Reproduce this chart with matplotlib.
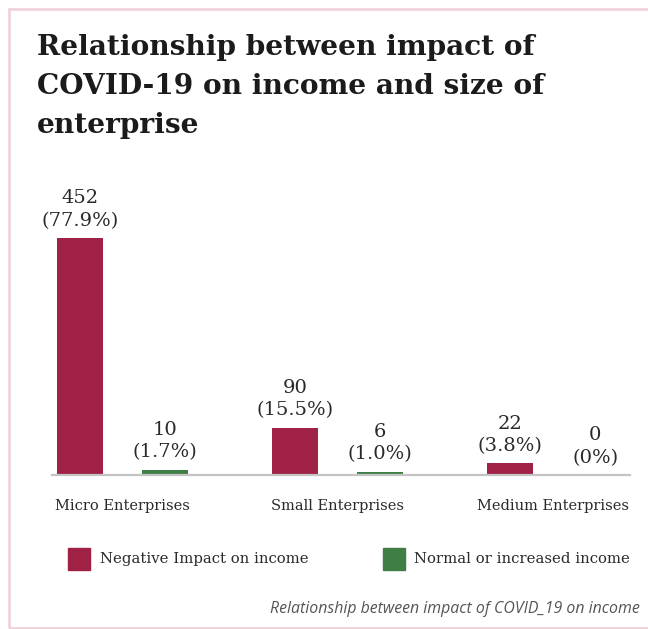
import matplotlib.pyplot as plt
from matplotlib.patches import Rectangle
import numpy as np

categories = ["Micro Enterprises", "Small Enterprises", "Medium Enterprises"]
negative_counts = [452, 90, 22]
negative_pcts = ["77.9%", "15.5%", "3.8%"]
normal_counts = [10, 6, 0]
normal_pcts = ["1.7%", "1.0%", "0%"]
series_names = ["Negative Impact on income", "Normal or increased income"]

RED = "#9f2146"
GREEN = "#3f7f46"
W, H = 648, 629


def px(x, y):
    """Pixel coords (top-left origin) to figure fraction."""
    return x / W, 1 - y / H


fig = plt.figure(figsize=(W / 100, H / 100), dpi=100)
fig.patch.set_facecolor("white")

# pink frame, open on the right side
fig.add_artist(Rectangle(px(9, 628), (W + 20) / W, 619 / H, transform=fig.transFigure,
                         fill=False, edgecolor="#f1d3da", lw=2))

fig.text(*px(37, 34), "Relationship between impact of\nCOVID-19 on income and size of\nenterprise",
         family="DejaVu Serif", weight="bold", fontsize=20.2, color="#1b1b1b",
         va="top", ha="left", linespacing=1.56)

ax = fig.add_axes([52 / W, 1 - 475 / H, (630 - 52) / W, 237 / H])
x = np.arange(len(categories))
bw = 0.214
off = 0.199
ax.bar(x - off, negative_counts, bw, color=RED)
ax.bar(x + off, normal_counts, bw, color=GREEN)
ax.set_xlim(-0.328, 2.36)
ax.set_ylim(0, max(negative_counts))

for xs, counts, pcts in [(x - off, negative_counts, negative_pcts), (x + off, normal_counts, normal_pcts)]:
    for xi, c, p in zip(xs, counts, pcts):
        ax.annotate(f"{c}\n({p})", (xi, c), xytext=(0, 6), textcoords="offset points",
                    ha="center", va="bottom", family="DejaVu Serif", fontsize=14,
                    color="#2a2a2a", linespacing=1.3, annotation_clip=False)

for s in ["top", "right", "left"]:
    ax.spines[s].set_visible(False)
ax.spines["bottom"].set_color("#c4c4c4")
ax.spines["bottom"].set_linewidth(1.6)
ax.set_yticks([])
ax.set_xticks(x)
ax.set_xticklabels(categories, family="DejaVu Serif", fontsize=10.5, color="#2a2a2a")
ax.tick_params(axis="x", length=0, pad=17)

# legend drawn as swatches + labels
for (sx, tx), name, col in zip([(68, 100), (383, 414)], series_names, [RED, GREEN]):
    fig.add_artist(Rectangle(px(sx, 570), 22 / W, 22 / H, transform=fig.transFigure,
                             color=col))
    fig.text(*px(tx, 559), name, family="DejaVu Serif", fontsize=10.7,
             color="#2a2a2a", va="center", ha="left")

fig.text(*px(640, 609), "Relationship between impact of COVID_19 on income",
         family="Open Sans", style="italic", fontsize=11.4, color="#555555",
         va="center", ha="right")

fig.savefig("out.png", dpi=100)
